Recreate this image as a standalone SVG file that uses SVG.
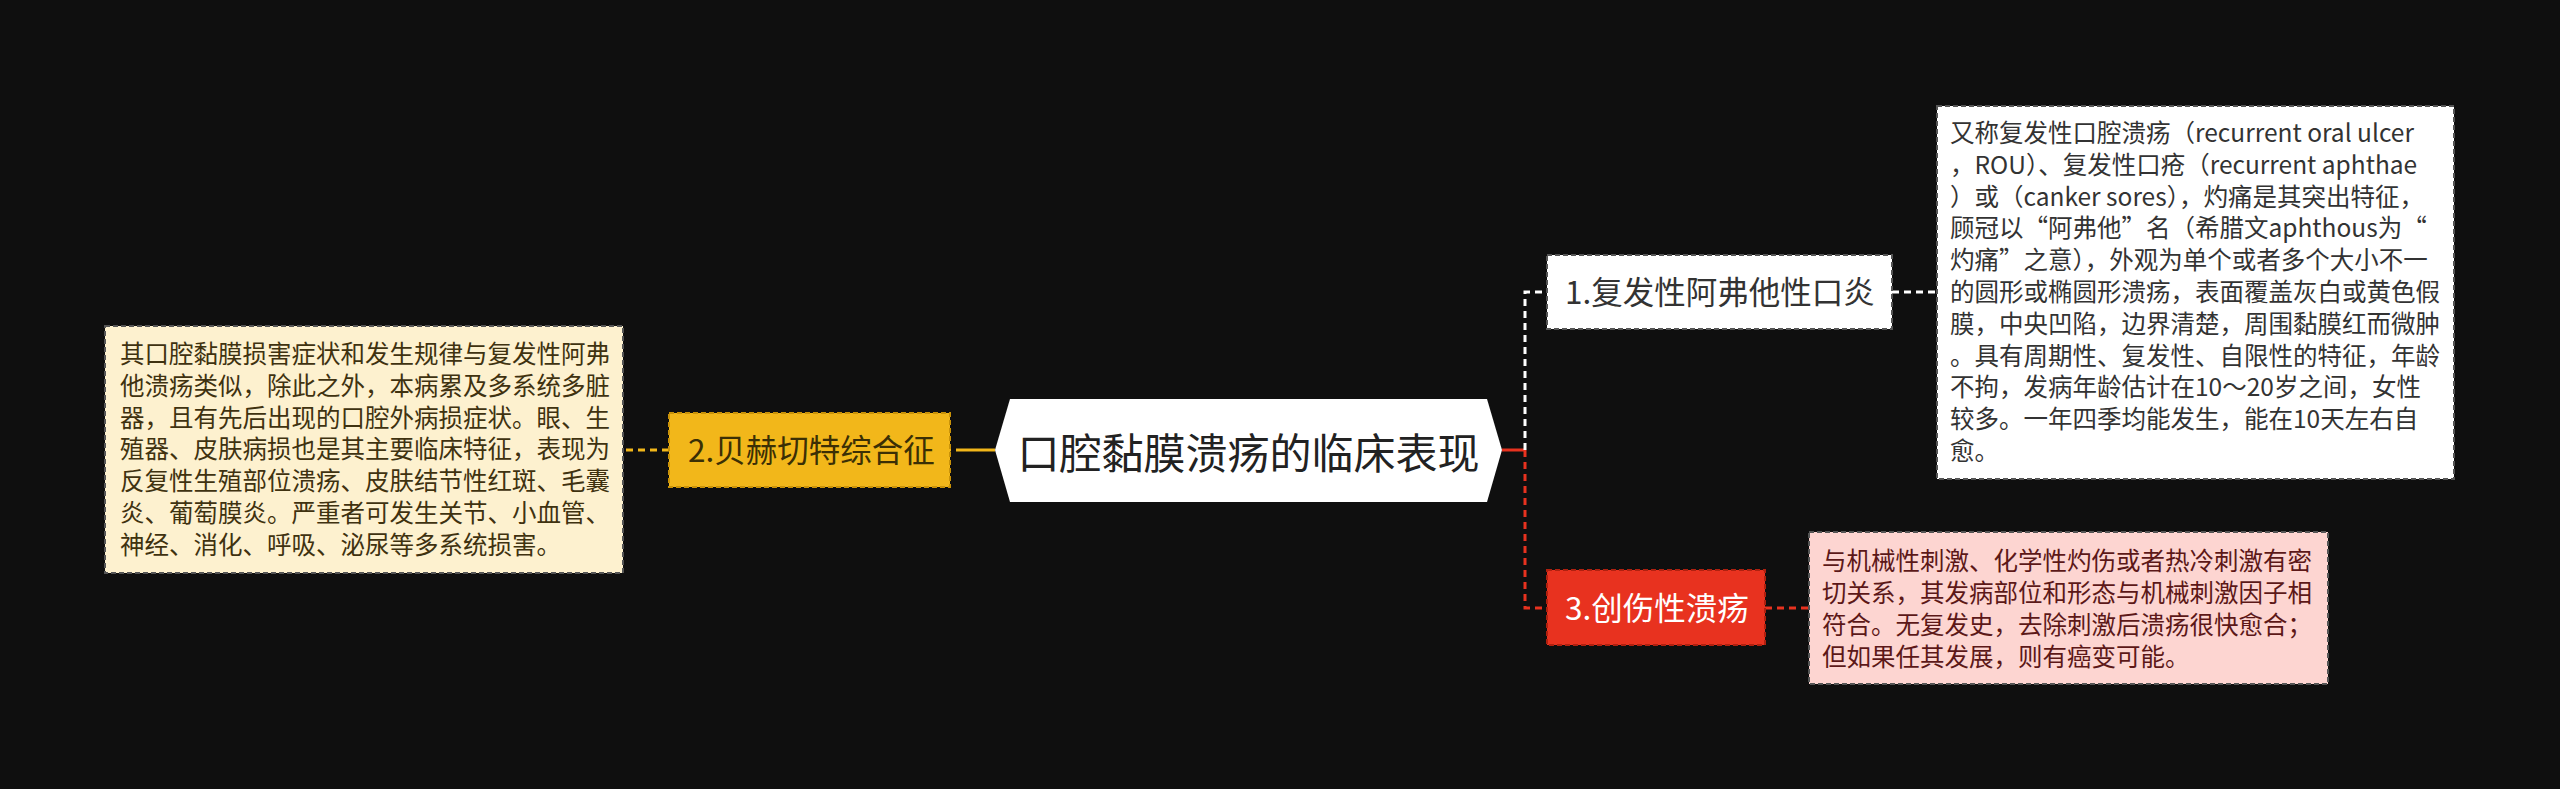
<svg xmlns="http://www.w3.org/2000/svg" width="2560" height="789" viewBox="0 0 2560 789">
<style>
text{font-family:"Noto Sans CJK SC","Microsoft YaHei",sans-serif;}
.bx{stroke-width:2;stroke-dasharray:5 3;}
.n{font-size:31.5px;}
.d{font-size:24.5px;}
.c{fill:none;stroke-width:3;}
.dash{stroke-dasharray:7 5;}
</style>
<rect width="2560" height="789" fill="#0f0f0f"/>
<g id="connectors">
  <line class="c" x1="995" y1="450" x2="963" y2="450" stroke="#f2b71a"/>
  <line class="c dash" x1="963" y1="450" x2="950" y2="450" stroke="#f2b71a"/>
  <line class="c dash" x1="669" y1="450" x2="624" y2="450" stroke="#f2b71a"/>
  <line class="c" x1="1502" y1="450" x2="1525" y2="450" stroke="#e8321f"/>
  <path class="c dash" d="M1525 450 V292 H1547" stroke="#ffffff"/>
  <path class="c dash" d="M1525 450 V608 H1547" stroke="#e8321f"/>
  <line class="c dash" x1="1892" y1="292" x2="1937" y2="292" stroke="#ffffff"/>
  <line class="c dash" x1="1765" y1="608" x2="1809" y2="608" stroke="#e8321f"/>
</g>
<g id="center">
  <polygon points="995,450 1010,399 1487,399 1502,450 1487,502 1010,502" fill="#ffffff"/>
  <text x="1248.5" y="469" font-size="42" text-anchor="middle" fill="#222">口腔黏膜溃疡的临床表现</text>
</g>
<g id="node1">
  <rect class="bx" x="1547" y="255" width="345" height="74" fill="#ffffff" stroke="#555"/>
  <text class="n" x="1565" y="304" fill="#333">1.复发性阿弗他性口炎</text>
</g>
<g id="node2">
  <rect class="bx" x="669" y="413" width="281" height="74" fill="#f2b71a" stroke="#c99208"/>
  <text class="n" x="688" y="462" fill="#3b2f05">2.贝赫切特综合征</text>
</g>
<g id="node3">
  <rect class="bx" x="1547" y="570" width="218" height="75" fill="#e8321f" stroke="#b0200f"/>
  <text class="n" x="1565" y="620" fill="#ffffff">3.创伤性溃疡</text>
</g>
<g id="detail1">
  <rect class="bx" x="1937" y="106" width="517" height="373" fill="#ffffff" stroke="#555"/>
  <text class="d" fill="#333">
    <tspan x="1950" y="142">又称复发性口腔溃疡（recurrent oral ulcer</tspan>
    <tspan x="1950" y="173.8">，ROU）、复发性口疮（recurrent aphthae</tspan>
    <tspan x="1950" y="205.6">）或（canker sores），灼痛是其突出特征，</tspan>
    <tspan x="1950" y="237.4">顾冠以“阿弗他”名（希腊文aphthous为“</tspan>
    <tspan x="1950" y="269.2">灼痛”之意），外观为单个或者多个大小不一</tspan>
    <tspan x="1950" y="301">的圆形或椭圆形溃疡，表面覆盖灰白或黄色假</tspan>
    <tspan x="1950" y="332.8">膜，中央凹陷，边界清楚，周围黏膜红而微肿</tspan>
    <tspan x="1950" y="364.6">。具有周期性、复发性、自限性的特征，年龄</tspan>
    <tspan x="1950" y="396.4">不拘，发病年龄估计在10～20岁之间，女性</tspan>
    <tspan x="1950" y="428.2">较多。一年四季均能发生，能在10天左右自</tspan>
    <tspan x="1950" y="460">愈。</tspan>
  </text>
</g>
<g id="detail2">
  <rect class="bx" x="105" y="326" width="518" height="247" fill="#fdf1cf" stroke="#555"/>
  <text class="d" fill="#3f3210">
    <tspan x="120" y="363">其口腔黏膜损害症状和发生规律与复发性阿弗</tspan>
    <tspan x="120" y="394.8">他溃疡类似，除此之外，本病累及多系统多脏</tspan>
    <tspan x="120" y="426.6">器，且有先后出现的口腔外病损症状。眼、生</tspan>
    <tspan x="120" y="458.4">殖器、皮肤病损也是其主要临床特征，表现为</tspan>
    <tspan x="120" y="490.2">反复性生殖部位溃疡、皮肤结节性红斑、毛囊</tspan>
    <tspan x="120" y="522">炎、葡萄膜炎。严重者可发生关节、小血管、</tspan>
    <tspan x="120" y="553.8">神经、消化、呼吸、泌尿等多系统损害。</tspan>
  </text>
</g>
<g id="detail3">
  <rect class="bx" x="1809" y="532" width="519" height="152" fill="#fdd5d1" stroke="#555"/>
  <text class="d" fill="#5c1818">
    <tspan x="1822" y="570">与机械性刺激、化学性灼伤或者热冷刺激有密</tspan>
    <tspan x="1822" y="602">切关系，其发病部位和形态与机械刺激因子相</tspan>
    <tspan x="1822" y="634">符合。无复发史，去除刺激后溃疡很快愈合；</tspan>
    <tspan x="1822" y="666">但如果任其发展，则有癌变可能。</tspan>
  </text>
</g>
</svg>
